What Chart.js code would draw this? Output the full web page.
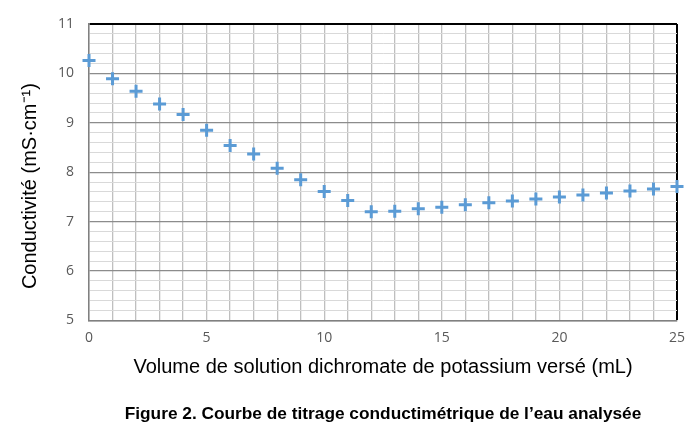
<!DOCTYPE html>
<html>
<head>
<meta charset="utf-8">
<script src="https://cdn.jsdelivr.net/npm/chart.js@4"></script>
<style>
  html, body { margin: 0; padding: 0; background: #fff; }
  #wrap { width: 700px; height: 435px; }
</style>
</head>
<body>
<div id="wrap"><canvas id="titrage"></canvas></div>
<script>
// volumes versés (mL) et conductivité mesurée (mS/cm)
var volumes = [0, 1, 2, 3, 4, 5, 6, 7, 8, 9, 10, 11, 12, 13, 14, 15, 16, 17, 18, 19, 20, 21, 22, 23, 24, 25];
var conductivite = [10.26, 9.89, 9.64, 9.38, 9.17, 8.85, 8.54, 8.37, 8.08, 7.85, 7.61, 7.43, 7.20, 7.21, 7.26, 7.29, 7.34, 7.38, 7.42, 7.46, 7.50, 7.54, 7.58, 7.62, 7.66, 7.71];
var xLabels = [0, 5, 10, 15, 20, 25];
var yLabels = [5, 6, 7, 8, 9, 10, 11];

var points = volumes.map(function (v, i) { return { x: v, y: conductivite[i] }; });

var ctx = document.getElementById("titrage").getContext('2d');
var chart = new Chart(ctx, {
    type: 'scatter',
    data: {
    datasets: [{
        data: points,
        clip: false,
        pointStyle: 'cross',
        pointRadius: 6.5,
        pointHoverRadius: 6.5,
        borderWidth: 3,
        pointBorderWidth: 3,
        borderColor: '#5b9bd5',
        backgroundColor: '#5b9bd5'
    }]
    },
    options: {
    responsive: true,
    maintainAspectRatio: false,
    animation: false,
    layout: { padding: { top: 24, right: 23, left: 18, bottom: 4 } },
    plugins: {
        legend: { display: false },
        tooltip: { enabled: false },
        title: {
            display: true,
            position: 'bottom',
            fullSize: false,
            text: 'Figure 2. Courbe de titrage conductimétrique de l\u2019eau analysée',
            color: '#000',
            font: { family: 'Liberation Sans', size: 17.3, weight: 'bold' },
            padding: { top: 25, bottom: 6 }
        }
    },
    scales: {
        x: {
            type: 'linear',
            min: 0,
            max: 25,
            ticks: {
                stepSize: 1,
                autoSkip: false,
                maxRotation: 0,
                color: '#595959',
                padding: 9,
                font: { family: 'Open Sans', size: 14 },
                callback: function (v) { return xLabels.indexOf(v) >= 0 ? String(v) : ''; }
            },
            grid: {
                drawTicks: false,
                lineWidth: function (c) { return c.tick && c.tick.value === 25 ? 2 : 1.3; },
                color: function (c) { return c.tick && c.tick.value === 25 ? '#000' : '#bfbfbf'; }
            },
            border: { color: '#808080', width: 1.5 },
            title: {
                display: true,
                text: 'Volume de solution dichromate de potassium versé (mL)',
                color: '#000',
                font: { family: 'Liberation Sans', size: 20 },
                padding: { top: 0, bottom: 0 }
            }
        },
        y: {
            min: 5,
            max: 11,
            ticks: {
                stepSize: 0.2,
                autoSkip: false,
                color: '#595959',
                padding: 15,
                font: { family: 'Open Sans', size: 14 },
                callback: function (v) {
                    var r = Math.round(v);
                    return Math.abs(v - r) < 1e-6 && yLabels.indexOf(r) >= 0 ? String(r) : '';
                }
            },
            grid: {
                drawTicks: false,
                lineWidth: function (c) {
                    if (!c.tick) return 1;
                    var v = c.tick.value;
                    if (Math.abs(v - 11) < 1e-6) return 2;
                    return Math.abs(v - Math.round(v)) < 1e-6 ? 1.3 : 1;
                },
                color: function (c) {
                    if (!c.tick) return '#d9d9d9';
                    var v = c.tick.value;
                    if (Math.abs(v - 11) < 1e-6) return '#000';
                    return Math.abs(v - Math.round(v)) < 1e-6 ? '#8c8c8c' : '#d9d9d9';
                }
            },
            border: { color: '#808080', width: 1.5 },
            title: {
                display: true,
                // espaces finaux : décalent le titre vers le bas comme dans l'original
                text: 'Conductivité (mS·cm\u207B\u00B9)     ',
                color: '#000',
                font: { family: 'Liberation Sans', size: 20 },
                padding: { top: 0, bottom: 1 }
            }
        }
    }
    }
});
</script>
</body>
</html>
